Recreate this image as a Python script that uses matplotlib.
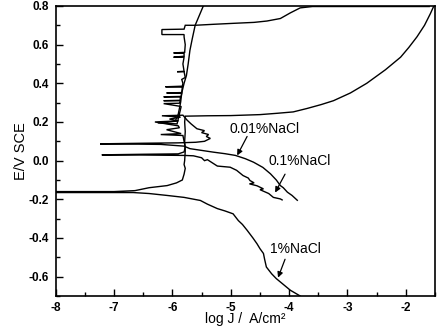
import matplotlib
matplotlib.use("Agg")
import matplotlib.pyplot as plt
from matplotlib.ticker import MultipleLocator, FuncFormatter

plt.rcParams['font.family'] = ['Liberation Sans', 'DejaVu Sans']
plt.rcParams['axes.unicode_minus'] = False

# ---- data: log J (A/cm2) vs E (V vs SCE) ----
# 1% NaCl: cathodic branch (from low E up to Ecorr), then anodic branch
j_1pct = [-3.81, -3.98, -4.10, -4.22, -4.30, -4.39, -4.42, -4.44, -4.50, -4.55, -4.62,
          -4.72, -4.80, -4.87, -4.96, -5.10, -5.23, -5.40, -5.52, -5.80, -6.09, -6.40,
          -6.67, -7.50, -8.00,
          -8.00, -7.00, -6.64, -6.40, -6.09, -5.93, -5.83, -5.80, -5.78, -5.80, -5.79,
          -5.78, -5.79, -5.78, -5.79, -5.78, -5.40, -5.00, -4.50, -4.20, -3.93, -3.69,
          -3.45, -3.24, -2.95, -2.67, -2.35, -2.09, -1.95, -1.81, -1.68, -1.58, -1.52]
e_1pct = [-0.70, -0.67, -0.64, -0.61, -0.585, -0.55, -0.51, -0.48, -0.455, -0.43, -0.40,
          -0.36, -0.33, -0.31, -0.275, -0.26, -0.248, -0.225, -0.206, -0.19, -0.18, -0.17,
          -0.165, -0.165, -0.165,
          -0.160, -0.160, -0.155, -0.14, -0.129, -0.115, -0.10, -0.07, -0.04, -0.02, 0.00,
          0.05, 0.10, 0.15, 0.20, 0.230, 0.232, 0.233, 0.238, 0.245, 0.252, 0.27,
          0.29, 0.31, 0.35, 0.40, 0.47, 0.535, 0.585, 0.64, 0.70, 0.76, 0.80]

# 0.01% NaCl: cathodic branch, Ecorr spike, noisy anodic branch with breakdown near 0.70 V
j_001pct = [-3.86, -3.95, -4.03, -4.10, -4.15, -4.22, -4.32, -4.45, -4.61, -4.75, -4.92,
            -5.10, -5.30, -5.50, -5.70, -5.80, -6.20, -6.80, -7.24,
            -6.50, -5.90, -5.60, -5.45, -5.35, -5.42, -5.38, -5.50, -5.45, -5.58, -5.68,
            -5.75, -5.82, -6.18, -5.86, -6.05, -5.90, -6.25, -5.92, -5.85,
            -6.15, -5.88, -5.86, -6.15, -5.87, -5.86, -6.15, -5.85, -5.84, -6.10, -5.84,
            -5.83, -6.12, -5.83, -5.82, -5.84, -5.78, -5.80, -5.92, -5.80, -5.82, -5.80,
            -5.98, -5.80, -5.80, -5.98, -5.79, -5.78, -5.80, -5.80, -6.18, -6.18, -5.80,
            -5.78, -5.61, -5.30, -4.96, -4.60, -4.38, -4.15, -3.98, -3.81, -3.60, -2.50, -1.60]
e_001pct = [-0.205, -0.18, -0.163, -0.14, -0.129, -0.10, -0.068, -0.035, -0.008, 0.010, 0.027,
            0.036, 0.044, 0.053, 0.062, 0.075, 0.084, 0.086, 0.087,
            0.090, 0.092, 0.095, 0.100, 0.115, 0.125, 0.135, 0.145, 0.155, 0.165, 0.19,
            0.21, 0.235, 0.232, 0.225, 0.215, 0.205, 0.195, 0.19, 0.28,
            0.295, 0.297, 0.31, 0.31, 0.312, 0.33, 0.33, 0.332, 0.35, 0.35, 0.352,
            0.38, 0.382, 0.385, 0.40, 0.42, 0.43, 0.46, 0.46, 0.462, 0.50, 0.535,
            0.535, 0.54, 0.555, 0.557, 0.56, 0.60, 0.64, 0.652, 0.652, 0.678, 0.680,
            0.70, 0.700, 0.705, 0.710, 0.715, 0.722, 0.735, 0.764, 0.79, 0.797, 0.797, 0.797]

# 0.1% NaCl: cathodic branch, Ecorr spike, smooth passive anodic branch
j_01pct = [-4.12, -4.15, -4.27, -4.35, -4.50, -4.44, -4.55, -4.68, -4.60, -4.67, -4.70,
           -4.79, -4.90, -5.01, -5.23, -5.40, -5.45, -5.50, -5.64, -5.80, -6.50, -7.21,
           -6.50, -5.90, -5.80, -5.78, -5.80, -5.82, -6.20, -5.85, -6.10, -5.88, -5.90,
           -6.30, -5.95, -5.90, -5.88, -5.86, -5.84, -5.80, -5.76, -5.73, -5.70, -5.66,
           -5.61, -5.54, -5.47]
e_01pct = [-0.203, -0.198, -0.19, -0.17, -0.15, -0.146, -0.13, -0.12, -0.115, -0.103, -0.09,
           -0.077, -0.05, -0.034, -0.028, 0.005, 0.000, 0.015, 0.025, 0.027, 0.029, 0.030,
           0.033, 0.035, 0.045, 0.07, 0.10, 0.13, 0.135, 0.14, 0.16, 0.17, 0.18,
           0.20, 0.205, 0.24, 0.27, 0.30, 0.35, 0.40, 0.44, 0.50, 0.57, 0.63,
           0.70, 0.75, 0.80]

labels = ["0.01%NaCl", "0.1%NaCl", "1%NaCl"]
label_xy = [(-5.02, 0.165), (-4.36, 0.0), (-4.33, -0.455)]
arrow_from = [(-4.72, 0.125), (-4.07, -0.07), (-4.07, -0.51)]
arrow_to = [(-4.89, 0.027), (-4.24, -0.165), (-4.19, -0.605)]

x_ticks = [-8, -7, -6, -5, -4, -3, -2]
y_ticks = [-0.6, -0.4, -0.2, 0.0, 0.2, 0.4, 0.6, 0.8]

fig = plt.figure(figsize=(4.43, 3.30), dpi=100)
ax = fig.add_axes([0.1257, 0.103, 0.982 - 0.1257, 0.982 - 0.103])

for j, e in [(j_1pct, e_1pct), (j_001pct, e_001pct), (j_01pct, e_01pct)]:
    ax.plot(j, e, color='black', lw=1.0, solid_joinstyle='miter')

for lab, xy, a0, a1 in zip(labels, label_xy, arrow_from, arrow_to):
    ax.text(xy[0], xy[1], lab, fontsize=10, ha='left', va='center', color='black')
    ax.annotate('', xy=a1, xytext=a0,
                arrowprops=dict(arrowstyle='-|>', color='black', lw=0.9,
                                mutation_scale=8, shrinkA=0, shrinkB=0))

ax.set_xlim(-8, -1.5)
ax.set_ylim(-0.7, 0.8)
ax.set_xticks(x_ticks)
ax.set_yticks(y_ticks)
ax.xaxis.set_minor_locator(MultipleLocator(0.5))
ax.yaxis.set_minor_locator(MultipleLocator(0.1))
ax.yaxis.set_major_formatter(FuncFormatter(lambda v, p: f"{v:.1f}".replace("-0.0", "0.0")))
ax.xaxis.set_major_formatter(FuncFormatter(lambda v, p: f"{int(round(v))}"))
ax.tick_params(which='both', direction='in', top=False, right=False, width=1.0)
ax.tick_params(which='major', length=5, labelsize=8.5)
ax.tick_params(axis='x', which='major', pad=4)
ax.tick_params(axis='y', which='major', pad=5)
ax.tick_params(which='minor', length=3)
for lbl in ax.get_xticklabels() + ax.get_yticklabels():
    lbl.set_fontweight('bold')
for s in ax.spines.values():
    s.set_linewidth(1.2)

ax.set_xlabel("log J /  A/cm\u00b2", fontsize=10, labelpad=-1)
ax.set_ylabel("E/V SCE", fontsize=10.5, labelpad=0)

fig.savefig("out.png", dpi=100)
